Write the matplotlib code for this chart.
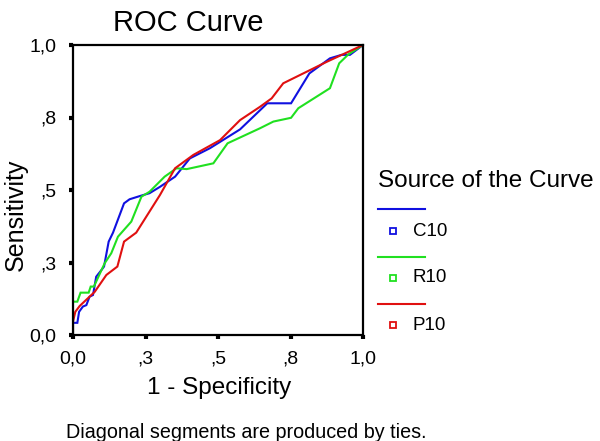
import matplotlib
matplotlib.use("Agg")
import matplotlib.pyplot as plt
from matplotlib.lines import Line2D

plt.rcParams['font.family'] = ['Liberation Sans', 'DejaVu Sans']

# C10 (blue)
c10_x = [0.0, 0.0, 0.015, 0.021, 0.034, 0.046, 0.057, 0.069, 0.080, 0.098, 0.107, 0.123, 0.138,
         0.176, 0.195, 0.230, 0.264, 0.300, 0.352, 0.403, 0.472, 0.576, 0.670, 0.752, 0.815,
         0.886, 0.926, 0.955, 1.0]
c10_y = [0.0, 0.042, 0.042, 0.080, 0.098, 0.103, 0.132, 0.138, 0.201, 0.224, 0.236, 0.322, 0.353,
         0.454, 0.468, 0.479, 0.489, 0.511, 0.546, 0.609, 0.644, 0.709, 0.799, 0.799, 0.902,
         0.954, 0.966, 0.966, 1.0]

# R10 (green)
r10_x = [0.0, 0.0, 0.015, 0.026, 0.054, 0.061, 0.072, 0.109, 0.132, 0.155, 0.201, 0.236, 0.264,
         0.316, 0.357, 0.392, 0.484, 0.533, 0.645, 0.691, 0.752, 0.777, 0.886, 0.918, 0.950, 1.0]
r10_y = [0.0, 0.115, 0.115, 0.146, 0.146, 0.167, 0.167, 0.247, 0.282, 0.339, 0.391, 0.477, 0.494,
         0.546, 0.575, 0.572, 0.592, 0.661, 0.713, 0.736, 0.749, 0.782, 0.851, 0.937, 0.968, 1.0]

# P10 (red)
p10_x = [0.0, 0.0, 0.008, 0.023, 0.075, 0.115, 0.153, 0.176, 0.218, 0.300, 0.352, 0.415, 0.507,
         0.576, 0.645, 0.685, 0.725, 0.875, 1.0]
p10_y = [0.0, 0.046, 0.080, 0.100, 0.149, 0.207, 0.236, 0.322, 0.353, 0.483, 0.575, 0.621, 0.672,
         0.741, 0.787, 0.816, 0.868, 0.942, 1.0]

series_names = ["C10", "R10", "P10"]
series_colors = ["#1010e0", "#20e020", "#e01010"]
tick_vals = [0.0, 0.25, 0.5, 0.75, 1.0]
tick_labels = ["0,0", ",3", ",5", ",8", "1,0"]

fig = plt.figure(figsize=(6.0, 4.41), dpi=100)
ax = fig.add_axes([73/600, 106/441, 290/600, 290/441])

for xs, ys, col in zip([c10_x, r10_x, p10_x], [c10_y, r10_y, p10_y], series_colors):
    ax.plot(xs, ys, color=col, lw=1.5, solid_joinstyle='miter')

ax.set_xlim(0, 1)
ax.set_ylim(0, 1)
ax.set_xticks(tick_vals)
ax.set_xticklabels(tick_labels)
ax.set_yticks(tick_vals)
ax.set_yticklabels(tick_labels)
ax.tick_params(direction='out', length=3, width=3, labelsize=14, color='black')
ax.tick_params(axis='x', pad=8)
ax.tick_params(axis='y', pad=9)
for sp in ax.spines.values():
    sp.set_linewidth(1.6)

fig.text(219/600, 1 - 388/441, "1 - Specificity", fontsize=17.5, ha='center', va='center')
fig.text(16/600, 1 - 215/441, "Sensitivity", fontsize=18, ha='center', va='center',
         rotation=90)

fig.text(188/600, 1 - 23/441, "ROC Curve", fontsize=21, ha='center', va='center')
fig.text(66/600, 1 - 432/441, "Diagonal segments are produced by ties.", fontsize=14.2,
         ha='left', va='center')

# legend drawn manually
fig.text(378/600, 1 - 181/441, "Source of the Curve", fontsize=17.5, ha='left', va='center')
line_y = [209, 257, 304]
mark_y = [231, 278, 325]
for name, col, ly, my in zip(series_names, series_colors, line_y, mark_y):
    fig.add_artist(Line2D([378/600, 425/600], [1 - ly/441, 1 - ly/441], color=col, lw=1.5,
                          transform=fig.transFigure))
    fig.add_artist(Line2D([393/600], [1 - my/441], marker='s', markersize=5, markerfacecolor='none',
                          markeredgecolor=col, markeredgewidth=1.3, linestyle='none',
                          transform=fig.transFigure))
    fig.text(413/600, 1 - my/441, name, fontsize=13.5, ha='left', va='center')

fig.savefig("out.png", dpi=100)
